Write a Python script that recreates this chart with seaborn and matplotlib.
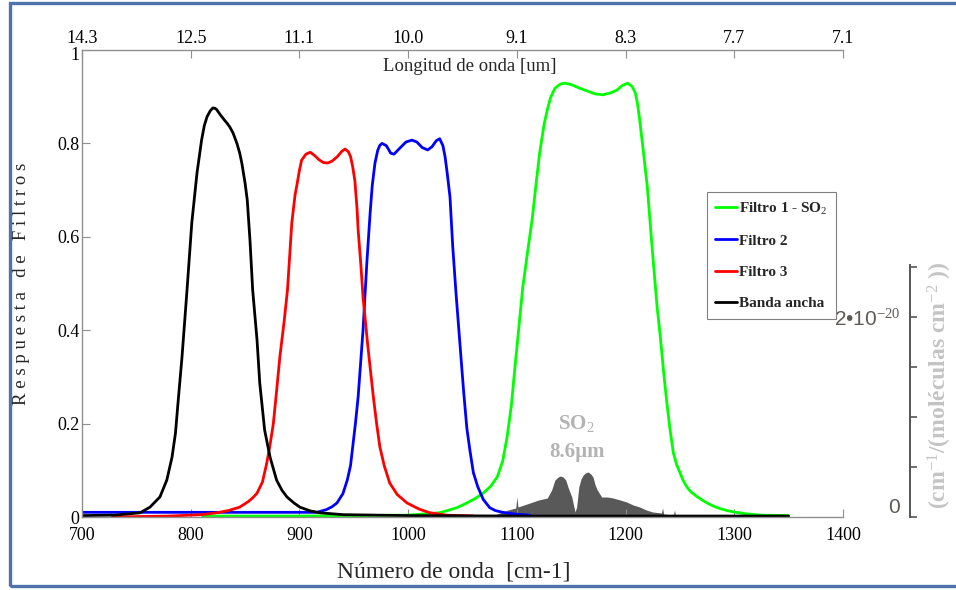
import matplotlib
matplotlib.use("Agg")
import matplotlib.pyplot as plt
from matplotlib import font_manager
from matplotlib import transforms
from matplotlib.patches import Rectangle
import pandas as pd
import seaborn as sns

# ---------------------------------------------------------------------------
# Filter transmission curves (wavenumber [cm-1], normalised response)
# ---------------------------------------------------------------------------
f1_wn = [811, 900, 1000, 1029, 1045, 1054, 1062, 1069, 1076, 1082, 1087, 1091,
         1095, 1098, 1102, 1105.5, 1110, 1114, 1118, 1121, 1125, 1128, 1131,
         1135, 1140, 1144, 1150, 1158, 1165, 1172, 1179, 1186, 1192, 1197, 1202,
         1206, 1209, 1211, 1213, 1216, 1220, 1225, 1229, 1232, 1235, 1238, 1241,
         1244, 1247, 1250, 1253, 1256.5, 1260, 1265, 1270, 1275, 1281, 1287,
         1293, 1299, 1310, 1324, 1350]
f1_resp = [0.002, 0.002, 0.004, 0.009, 0.020, 0.030, 0.040, 0.051, 0.066, 0.086,
           0.120, 0.171, 0.240, 0.315, 0.410, 0.493, 0.570, 0.636, 0.720, 0.780,
           0.840, 0.872, 0.898, 0.918, 0.927, 0.929, 0.926, 0.918, 0.912, 0.906,
           0.904, 0.908, 0.914, 0.924, 0.929, 0.922, 0.908, 0.885, 0.850, 0.790,
           0.707, 0.560, 0.450, 0.385, 0.310, 0.244, 0.185, 0.137, 0.112, 0.095,
           0.078, 0.064, 0.054, 0.045, 0.037, 0.030, 0.023, 0.018, 0.014, 0.011,
           0.007, 0.004, 0.003]

f2_wn = [700, 800, 900, 916, 925, 930, 934.5, 940, 944, 947, 949, 951.5, 954,
         958.5, 962, 965, 967, 969.5, 972, 974, 976, 980, 984, 987, 992, 998,
         1003.5, 1008, 1013, 1018, 1022, 1026, 1029, 1032, 1034, 1036, 1038.5,
         1041, 1044, 1048, 1051, 1054, 1057, 1060, 1064, 1069, 1075, 1080, 1085,
         1092, 1100, 1112]
f2_resp = [0.010, 0.010, 0.010, 0.010, 0.016, 0.022, 0.030, 0.050, 0.079, 0.110,
           0.150, 0.200, 0.257, 0.400, 0.544, 0.650, 0.710, 0.758, 0.785, 0.796,
           0.800, 0.795, 0.779, 0.777, 0.789, 0.803, 0.807, 0.803, 0.791, 0.786,
           0.793, 0.806, 0.810, 0.795, 0.771, 0.735, 0.685, 0.580, 0.480, 0.360,
           0.270, 0.190, 0.140, 0.095, 0.065, 0.038, 0.020, 0.014, 0.011, 0.008,
           0.006, 0.004]

f3_wn = [728, 780, 810, 824, 835, 845, 853, 857, 861, 866, 870, 873, 876, 879,
         882, 886, 889, 893, 896, 898, 900, 902, 906, 910, 914, 918, 922, 926,
         930, 935, 939, 942, 945, 947, 949, 951, 953, 954, 956.5, 958.5, 963,
         968, 971, 974, 978, 983, 990, 999, 1010, 1020, 1035, 1060]
f3_resp = [0.000, 0.002, 0.005, 0.009, 0.014, 0.021, 0.033, 0.041, 0.051, 0.075,
           0.116, 0.155, 0.200, 0.270, 0.343, 0.420, 0.486, 0.630, 0.690, 0.715,
           0.742, 0.764, 0.777, 0.781, 0.774, 0.765, 0.759, 0.758, 0.762, 0.772,
           0.783, 0.788, 0.782, 0.772, 0.750, 0.720, 0.660, 0.615, 0.540, 0.471,
           0.364, 0.257, 0.200, 0.150, 0.110, 0.073, 0.048, 0.030, 0.017, 0.009,
           0.004, 0.002]

bb_wn = [700, 730, 753.4, 762.5, 771.7, 778, 782.8, 786, 788, 792, 796.6, 801,
         805.8, 810, 812.5, 815, 818, 820.5, 822.5, 824, 827, 831, 833.5, 836,
         839, 842.5, 845, 847, 850, 852, 854.5, 857, 861, 863.5, 868, 873, 879,
         884, 888.5, 895, 900.5, 910, 919, 940, 1000, 1100, 1350]
bb_resp = [0.003, 0.004, 0.009, 0.021, 0.043, 0.079, 0.128, 0.180, 0.236, 0.343,
           0.486, 0.630, 0.737, 0.807, 0.838, 0.857, 0.870, 0.876, 0.875, 0.872,
           0.862, 0.850, 0.843, 0.835, 0.822, 0.800, 0.780, 0.758, 0.715, 0.679,
           0.593, 0.486, 0.379, 0.287, 0.186, 0.128, 0.079, 0.057, 0.043, 0.030,
           0.021, 0.013, 0.009, 0.005, 0.003, 0.002, 0.002]

# SO2 absorption cross-section around 8.6 um (units of 1e-20 cm^2/molecule)
so2_wn = [1075, 1084.5, 1092, 1099, 1100, 1101, 1112, 1120, 1128, 1132, 1135,
          1138, 1140, 1142.5, 1145, 1147, 1150.5, 1152.5, 1153.5, 1155, 1157,
          1159, 1161, 1163, 1165.5, 1168, 1170, 1172, 1174, 1178, 1183, 1188.5,
          1195, 1201, 1207, 1213, 1219, 1225, 1233, 1234, 1235, 1244, 1245, 1246,
          1252]
so2_xs = [0.00, 0.04, 0.07, 0.09, 0.20, 0.10, 0.14, 0.17, 0.19, 0.27, 0.37,
          0.40, 0.41, 0.40, 0.37, 0.30, 0.20, 0.10, 0.05, 0.10, 0.30, 0.38,
          0.42, 0.44, 0.45, 0.43, 0.40, 0.32, 0.27, 0.20, 0.20, 0.19, 0.17,
          0.15, 0.12, 0.10, 0.07, 0.05, 0.04, 0.09, 0.03, 0.02, 0.07, 0.015,
          0.00]

series_names = ["Filtro 1 - SO$_2$", "Filtro 2", "Filtro 3", "Banda ancha"]
series_colors = ["#00ff00", "#0000ff", "#ff0000", "#000000"]

x_ticks = [700, 800, 900, 1000, 1100, 1200, 1300, 1400]
top_labels = ["14.3", "12.5", "11.1", "10.0", "9.1", "8.3", "7.7", "7.1"]
y_ticks = [0, 0.2, 0.4, 0.6, 0.8, 1.0]
y_labels = ["0", "0.2", "0.4", "0.6", "0.8", "1"]
xs_ticks = [0, 0.5, 1.0, 1.5, 2.0, 2.5]
xs_labels = ["0", "", "", "", "2\u202210$^{-20}$", ""]

# ---------------------------------------------------------------------------
sns.set_theme(style="white")
plt.rcParams["font.family"] = ["Liberation Serif", "DejaVu Serif"]
plt.rcParams["mathtext.fontset"] = "custom"
plt.rcParams["mathtext.rm"] = "Liberation Serif"
plt.rcParams["mathtext.it"] = "Liberation Serif:italic"
plt.rcParams["mathtext.bf"] = "Liberation Serif:bold"

installed = {f.name for f in font_manager.fontManager.ttflist}
narrow = "Liberation Sans Narrow" if "Liberation Sans Narrow" in installed else "Liberation Sans"

W, H = 956, 590
fig = plt.figure(figsize=(W / 100, H / 100), dpi=100)
fig.patch.set_facecolor("white")

# outer frame
fig.patches.append(Rectangle((10 / W, 4 / H), 1.2, (587 - 4) / H,
                             transform=fig.transFigure, fill=False,
                             edgecolor="#4f73a8", linewidth=2.4, zorder=0))

L, B, AW, AH = 82, 73, 761, 467
ax = fig.add_axes([L / W, B / H, AW / W, AH / H])

# SO2 cross-section on its own vertical scale, behind the filter curves
ax_s = ax.twinx()
ax_s.fill_between(so2_wn, so2_xs, 0, color="#595959", linewidth=0)
ax_s.set_ylim(0, 4.67)
ax_s.set_axis_off()
ax.set_zorder(ax_s.get_zorder() + 1)
ax.patch.set_visible(False)

curve_data = [(f1_wn, f1_resp), (f2_wn, f2_resp), (f3_wn, f3_resp), (bb_wn, bb_resp)]
handles = []
for (wn, resp), name, col in zip(curve_data, series_names, series_colors):
    df = pd.DataFrame({"wn": wn, "resp": resp})
    sns.lineplot(data=df, x="wn", y="resp", color=col, linewidth=2.0,
                 ax=ax, sort=False, legend=False)
    line = ax.lines[-1]
    line.set_label(name)
    line.set_solid_joinstyle("round")
    handles.append(line)

ax.set_xlim(700, 1400)
ax.set_ylim(0, 1)
ax.set_xticks(x_ticks)
ax.set_xticklabels([str(t) for t in x_ticks])
ax.set_yticks(y_ticks)
ax.set_yticklabels(y_labels)

spine_col = "#8f8f8f"
for side in ["right", "top"]:
    ax.spines[side].set_visible(False)
for side in ["left", "bottom"]:
    ax.spines[side].set_color(spine_col)
    ax.spines[side].set_linewidth(1.0)
ax.tick_params(axis="x", bottom=True, direction="in", length=6, width=0.8,
               color=spine_col, labelsize=13, pad=7, labelcolor="black")
ax.tick_params(axis="y", left=True, direction="in", length=6, width=0.8,
               color=spine_col, labelsize=13, pad=2, labelcolor="black")
# nudge the top "1" just under the wavelength labels
top_lab = ax.get_yticklabels()[-1]
top_lab.set_transform(top_lab.get_transform()
                      + transforms.ScaledTranslation(0, -3 / 100, fig.dpi_scale_trans))

# wavelength scale along the top
secax = ax.secondary_xaxis("top")
secax.set_xticks(x_ticks)
secax.set_xticklabels(top_labels)
secax.spines["top"].set_color(spine_col)
secax.spines["top"].set_linewidth(1.0)
secax.tick_params(axis="x", top=True, direction="in", length=6, width=0.8,
                  color=spine_col, labelsize=13, pad=2, labelcolor="black")

ax.text(0.51, 0.964, "Longitud de onda [um]", transform=ax.transAxes,
        ha="center", va="center", fontsize=13.5)

ax.set_xlabel("Número de onda  [cm-1]", fontsize=17, va="center")
ax.xaxis.set_label_coords((454 - L) / AW, (517 - 572) / AH)
ax.set_ylabel("R e s p u e s t a   d e   F i l t r o s", fontsize=13.5, va="center")
ax.yaxis.set_label_coords((22 - L) / AW, 0.5)

ax.text(1155, 0.201, "SO$_2$", ha="center", va="center", fontsize=15,
        fontweight="bold", color="#b3b3b3")
ax.text(1155, 0.139, "8.6\u00b5m", ha="center", va="center", fontsize=15,
        fontweight="bold", color="#b3b3b3")

leg = ax.legend(handles=handles, labels=series_names, loc="upper left",
                bbox_to_anchor=((707 - L) / AW, (517 - 192) / AH),
                borderaxespad=0, frameon=True, fancybox=False, framealpha=1,
                handlelength=1.4, handletextpad=0.12, labelspacing=1.15,
                borderpad=0.55,
                prop={"family": "Liberation Serif", "weight": "bold", "size": 11})
leg.get_frame().set_edgecolor("#808080")
leg.get_frame().set_linewidth(0.8)

# cross-section scale on the right
axr = fig.add_axes([910 / W, B / H, 0.0005, 252 / H])
axr.set_ylim(0, 2.52)
axr.patch.set_visible(False)
for side in ["right", "top", "bottom"]:
    axr.spines[side].set_visible(False)
axr.spines["left"].set_color("#555555")
axr.spines["left"].set_linewidth(1.4)
axr.set_xticks([])
axr.set_yticks(xs_ticks)
axr.set_yticklabels(xs_labels)
axr.tick_params(axis="y", left=True, direction="in", length=5, width=1.2,
                color="#555555", labelsize=15, pad=7, labelcolor="#5e5a56")
for lab in axr.get_yticklabels():
    lab.set_fontfamily(narrow)
axr.get_yticklabels()[0].set_va("bottom")

fig.text(940 / W, 1 - 385 / H, "(cm$^{-1}$/(moléculas cm$^{-2}$ ))",
         rotation=90, ha="center", va="center", fontsize=17,
         fontweight="bold", color="#c4c4c4")

fig.savefig("out.png", dpi=100)
